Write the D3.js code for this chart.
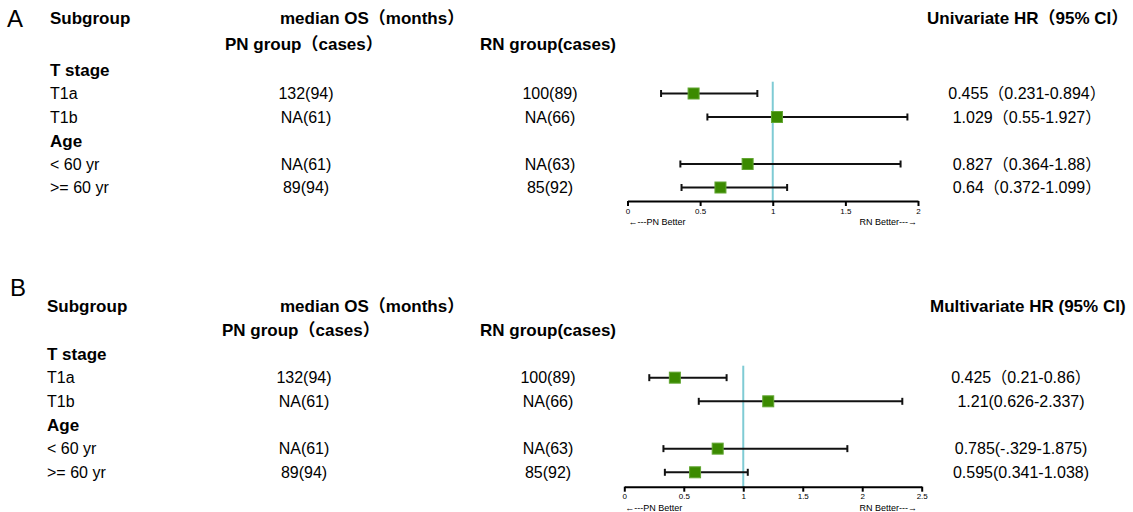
<!DOCTYPE html>
<html><head><meta charset="utf-8">
<script src="https://cdn.jsdelivr.net/npm/d3@7"></script>
<style>
body{margin:0;background:#fff;}
svg text{font-family:"Liberation Sans",Arial,"Noto Sans CJK SC",sans-serif;fill:#000;}
</style></head>
<body><svg id="c" width="1133" height="512"></svg>
<script>
const rowLabels = ["T stage","T1a","T1b","Age","< 60 yr",">= 60 yr"];
const rowIsHeader = [true,false,false,true,false,false];
const pnCases = ["132(94)","NA(61)","NA(61)","89(94)"];
const rnCases = ["100(89)","NA(66)","NA(63)","85(92)"];
const dataRows = [1,2,4,5];

const uniHR   = [0.455,1.029,0.827,0.64];
const uniLow  = [0.231,0.55,0.364,0.372];
const uniHigh = [0.894,1.927,1.88,1.099];
const uniText = ["0.455（0.231-0.894）","1.029（0.55-1.927）","0.827（0.364-1.88）","0.64（0.372-1.099）"];

const mulHR   = [0.425,1.21,0.785,0.595];
const mulLow  = [0.21,0.626,0.329,0.341];
const mulHigh = [0.86,2.337,1.875,1.038];
const mulText = ["0.425（0.21-0.86）","1.21(0.626-2.337)","0.785(-.329-1.875)","0.595(0.341-1.038)"];

const uniTicks = [0,0.5,1,1.5,2];
const mulTicks = [0,0.5,1,1.5,2,2.5];

const svg = d3.select("#c");

function panel(cfg){
  const g = svg.append("g");
  const y = d3.scaleLinear().domain([0,5]).range([cfg.y0, cfg.y5]);
  const x = d3.scaleLinear().domain([0,cfg.xmax]).range([cfg.xl, cfg.xr]);
  const base = (yc,fs)=>yc+0.358*fs;
  const FS = 16;

  g.append("text").attr("x",cfg.letterX).attr("y",base(cfg.letterY,24)).attr("font-size",24).text(cfg.letter);
  const bold = (t,xx,yy,anchor)=>g.append("text").attr("x",xx).attr("y",base(yy,17)).attr("font-size",17)
      .attr("font-weight","bold").attr("text-anchor",anchor||"start").text(t);
  bold("Subgroup",cfg.subX,cfg.h1);
  bold("median OS（months）",280,cfg.h1);
  bold("PN group（cases）",cfg.pnHX,cfg.h2);
  bold("RN group(cases)",480,cfg.h2);
  bold(cfg.hrTitle,cfg.hrTitleX,cfg.h1);

  rowLabels.forEach((t,i)=>{
    g.append("text").attr("x",cfg.subX).attr("y",base(y(i),rowIsHeader[i]?17:FS))
     .attr("font-size",rowIsHeader[i]?17:FS).attr("font-weight",rowIsHeader[i]?"bold":"normal").text(t);
  });
  dataRows.forEach((r,k)=>{
    const yy = base(y(r),FS);
    g.append("text").attr("x",cfg.pnX).attr("y",yy).attr("font-size",FS).attr("text-anchor","middle").text(pnCases[k]);
    g.append("text").attr("x",cfg.rnX).attr("y",yy).attr("font-size",FS).attr("text-anchor","middle").text(rnCases[k]);
    g.append("text").attr("x",cfg.hrX).attr("y",yy).attr("font-size",FS).attr("text-anchor","middle").text(cfg.text[k]);
  });

  g.append("line").attr("x1",x(1)).attr("x2",x(1)).attr("y1",cfg.refTop).attr("y2",cfg.axisY)
   .attr("stroke","#7fcbd4").attr("stroke-width",2);

  dataRows.forEach((r,k)=>{
    const yy = y(r);
    g.append("line").attr("x1",x(cfg.low[k])).attr("x2",x(cfg.high[k])).attr("y1",yy).attr("y2",yy)
     .attr("stroke","#111").attr("stroke-width",2);
    [cfg.low[k],cfg.high[k]].forEach(v=>{
      g.append("line").attr("x1",x(v)).attr("x2",x(v)).attr("y1",yy-3.5).attr("y2",yy+3.5)
       .attr("stroke","#111").attr("stroke-width",2);
    });
    g.append("rect").attr("x",x(cfg.hr[k])-5.5).attr("y",yy-5.5).attr("width",11).attr("height",11)
     .attr("fill","#3b8a00").attr("stroke","#62a632").attr("stroke-width",1);
  });

  const ax = g.append("g").attr("transform",`translate(0,${cfg.axisY})`)
    .call(d3.axisBottom(x).tickValues(cfg.ticks).tickSize(5).tickSizeOuter(0).tickFormat(d3.format("")));
  ax.select(".domain").attr("stroke","#000").attr("stroke-width",2);
  ax.selectAll(".tick line").attr("stroke","#000").attr("stroke-width",2);
  ax.selectAll(".tick text").attr("font-size",8).attr("font-family","Liberation Sans, Arial, sans-serif").attr("dy","0.6em");
  g.append("text").attr("x",cfg.xl+1).attr("y",cfg.axisY+24).attr("font-size",9).text("←---PN Better");
  g.append("text").attr("x",917).attr("y",cfg.axisY+24).attr("font-size",9).attr("text-anchor","end").text("RN Better---→");
}

panel({letter:"A",letterX:7,letterY:18,subX:50,h1:18,h2:44,pnHX:225,pnX:306,rnX:550,hrX:1027,
  hrTitle:"Univariate HR（95% CI）",hrTitleX:927,y0:70,y5:187.5,xl:627.5,xr:918,xmax:2,
  ticks:uniTicks,hr:uniHR,low:uniLow,high:uniHigh,text:uniText,refTop:81.7,axisY:201});
panel({letter:"B",letterX:10,letterY:287,subX:47,h1:306,h2:330,pnHX:222,pnX:304,rnX:548,hrX:1021,
  hrTitle:"Multivariate HR (95% CI)",hrTitleX:930,y0:354,y5:472.3,xl:624.3,xr:921.7,xmax:2.5,
  ticks:mulTicks,hr:mulHR,low:mulLow,high:mulHigh,text:mulText,refTop:365.7,axisY:486.7});
</script></body></html>
